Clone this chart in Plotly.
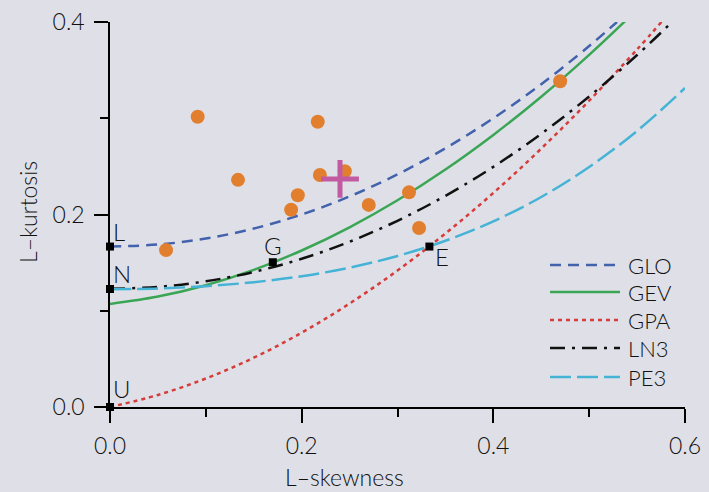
import plotly.graph_objects as go

# ---------------- data ----------------
t3_grid = [0.0, 0.05, 0.10, 0.15, 0.20, 0.25, 0.30, 0.35, 0.40, 0.45, 0.50]

glo_x = t3_grid + [0.529]
glo_y = [0.1667, 0.1688, 0.1750, 0.1854, 0.2000, 0.2188, 0.2417, 0.2688, 0.3000, 0.3354, 0.3750, 0.4000]

gev_x = t3_grid + [0.5376]
gev_y = [0.1070, 0.1147, 0.1265, 0.1425, 0.1626, 0.1867, 0.2148, 0.2468, 0.2827, 0.3224, 0.3659, 0.4010]

gpa_x = t3_grid + [0.55, 0.576]
gpa_y = [0.0000, 0.0125, 0.0296, 0.0512, 0.0772, 0.1075, 0.1418, 0.1802, 0.2224, 0.2685, 0.3182, 0.3715, 0.4007]

ln3_x = t3_grid + [0.55, 0.588]
ln3_y = [0.1228, 0.1248, 0.1306, 0.1403, 0.1540, 0.1717, 0.1935, 0.2194, 0.2495, 0.2839, 0.3226, 0.3657, 0.4015]

pe3_x = t3_grid + [0.55, 0.60]
pe3_y = [0.1224, 0.1232, 0.1255, 0.1297, 0.1359, 0.1448, 0.1569, 0.1727, 0.1929, 0.2182, 0.2494, 0.2868, 0.3314]

site_x = [0.0585, 0.0915, 0.1336, 0.189, 0.196, 0.2168, 0.219, 0.245, 0.270, 0.312, 0.3225, 0.4697]
site_y = [0.163, 0.3016, 0.236, 0.205, 0.220, 0.2964, 0.241, 0.245, 0.210, 0.223, 0.186, 0.3384]

mean_x = [0.240]
mean_y = [0.237]

special_x = [0.0, 0.0, 0.0, 0.1699, 0.3333]
special_y = [0.1667, 0.1226, 0.0, 0.1504, 0.1667]
special_labels = ["L", "N", "U", "G", "E"]

dist_names = ["GLO", "GEV", "GPA", "LN3", "PE3"]

# ---------------- styling ----------------
FONT = "Lato"
FS = 23
FW = 300
TXT = "#111111"
BG = "#dfe0e7"

def fnt(size=FS):
    return dict(family=FONT, size=size, color=TXT, weight=FW)

curves = [
    (glo_x, glo_y, "#4362ad", "11px,7px"),
    (gev_x, gev_y, "#3aa655", "solid"),
    (gpa_x, gpa_y, "#d63c3a", "4px,4px"),
    (ln3_x, ln3_y, "#111111", "15px,7px,3px,7px"),
    (pe3_x, pe3_y, "#45b3d6", "21px,6px"),
]

fig = go.Figure()

for (cx, cy, col, dash), name in zip(curves, dist_names):
    fig.add_trace(go.Scatter(
        x=cx, y=cy, mode="lines", name=name,
        line=dict(color=col, width=2.5, dash=dash, shape="spline", smoothing=1.0),
        showlegend=False, hoverinfo="skip"))

fig.add_trace(go.Scatter(
    x=site_x, y=site_y, mode="markers",
    marker=dict(size=14, color="#e17f2f", line=dict(width=0)),
    showlegend=False, cliponaxis=False))

fig.add_trace(go.Scatter(
    x=mean_x, y=mean_y, mode="markers",
    marker=dict(symbol="cross-thin", size=27, color="#c25aa2",
                line=dict(width=5, color="#c25aa2")),
    showlegend=False, cliponaxis=False))

fig.add_trace(go.Scatter(
    x=special_x, y=special_y, mode="markers",
    marker=dict(symbol="square", size=8, color="black", line=dict(width=0)),
    showlegend=False, cliponaxis=False))

# labels of special points
label_style = {
    "L": dict(xanchor="left", xshift=1, yshift=15),
    "N": dict(xanchor="left", xshift=1, yshift=16),
    "U": dict(xanchor="left", xshift=1, yshift=19),
    "G": dict(xanchor="center", xshift=0, yshift=17),
    "E": dict(xanchor="left", xshift=4, yshift=-10),
}
for sx, sy, lab in zip(special_x, special_y, special_labels):
    st = label_style[lab]
    fig.add_annotation(x=sx, y=sy, text=lab, showarrow=False,
                       xanchor=st["xanchor"], yanchor="middle",
                       xshift=st["xshift"], yshift=st["yshift"],
                       font=fnt(24))

# custom legend (paper coordinates)
L, R, T, B = 110, 24, 22, 85
W, H = 709, 492
pw, ph = W - L - R, H - T - B
def px(xp):
    return (xp - L) / pw
def py(yp):
    return (H - B - yp) / ph

legend_rows = [265, 292, 320, 348, 377]
for (cx, cy, col, dash), name, yr in zip(curves, dist_names, legend_rows):
    fig.add_shape(type="line", xref="paper", yref="paper",
                  x0=px(550), x1=px(620), y0=py(yr), y1=py(yr),
                  line=dict(color=col, width=2.5, dash=dash))
    fig.add_annotation(xref="paper", yref="paper", x=px(626), y=py(yr),
                       text=name, showarrow=False, xanchor="left", yanchor="middle",
                       font=fnt(22))

# axis titles
fig.add_annotation(xref="paper", yref="paper", x=px(344), y=py(477),
                   text="L–skewness", showarrow=False, xanchor="center", yanchor="middle",
                   font=fnt())
fig.add_annotation(xref="paper", yref="paper", x=px(28), y=py(212),
                   text="L–kurtosis", showarrow=False, xanchor="center", yanchor="middle",
                   textangle=-90, font=fnt())

axis_common = dict(
    showgrid=False, zeroline=False, showline=True, linecolor="black", linewidth=1.5,
    ticks="outside", tickcolor="black", tickwidth=1.5, ticklen=14,
    tickfont=fnt(),
    tickformat=".1f", automargin=False,
)

fig.update_layout(
    width=W, height=H,
    margin=dict(l=L, r=R, t=T, b=B, autoexpand=False),
    paper_bgcolor=BG, plot_bgcolor=BG,
    showlegend=False,
    xaxis=dict(range=[0, 0.6], tick0=0, dtick=0.2, ticklabelstandoff=4,
               minor=dict(ticks="outside", ticklen=8, tickcolor="black", tickwidth=1.5, dtick=0.1),
               **axis_common),
    yaxis=dict(range=[0, 0.4], tick0=0, dtick=0.2, ticklabelstandoff=5,
               minor=dict(ticks="outside", ticklen=8, tickcolor="black", tickwidth=1.5, dtick=0.1),
               **axis_common),
)

post = ("document.body.style.margin='0';document.body.style.padding='0';"
        "document.body.style.overflow='hidden';"
        "document.body.style.background='" + BG + "';")

fig.write_html("out.html", post_script=post, config={"displayModeBar": False})
